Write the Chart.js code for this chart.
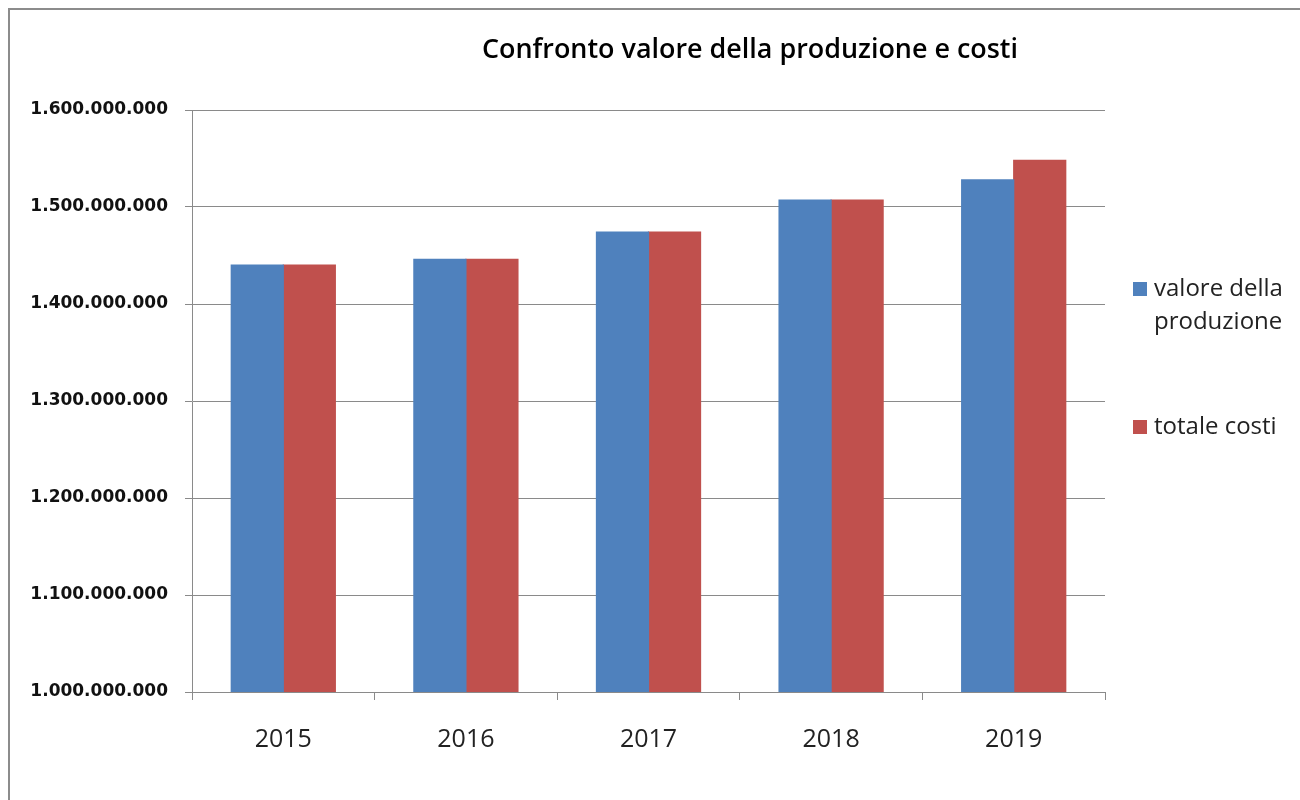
<!DOCTYPE html>
<html lang="it">
<head>
<meta charset="utf-8">
<title>Confronto valore della produzione e costi</title>
<style>
html, body { margin: 0; padding: 0; background: #fff; overflow: hidden; }
.frame { position: absolute; left: 8px; top: 8px; width: 1400px; height: 900px; border: 2px solid #8c8c8c; }
.holder { position: absolute; left: 0; top: 0; width: 1300px; height: 800px; }
</style>
</head>
<body>
<div class="frame"></div>
<div class="holder"><canvas id="canvas" width="1300" height="800"></canvas></div>

<script src="https://cdn.jsdelivr.net/npm/chart.js"></script>
<script>
// data
const years = ["2015", "2016", "2017", "2018", "2019"];
const valoreProduzione = [1440000000, 1446000000, 1474000000, 1507000000, 1528000000];
const totaleCosti      = [1440000000, 1446000000, 1474000000, 1507000000, 1548000000];
const seriesNames = [["valore della", "produzione"], ["totale costi"]];
const titleText = "Confronto valore della produzione e costi";

const blue = "#4f81bd";
const red = "#c0504d";
const gridGrey = "#8a8a8a";

function dots(v) {
  return String(Math.round(v)).replace(/\B(?=(\d{3})+(?!\d))/g, ".");
}

// title + legend drawn by hand, like the spreadsheet does it
const extras = {
  id: "extras",
  afterDraw(chart) {
    const c = chart.ctx;
    c.save();
    c.fillStyle = "#000";
    c.font = "600 27px 'Open Sans'";
    c.textAlign = "center";
    c.textBaseline = "middle";
    c.fillText(titleText, 750, 50, 536);

    c.textAlign = "left";
    c.font = "24px 'Open Sans'";
    const rows = [289, 427];
    chart.data.datasets.forEach((ds, i) => {
      c.fillStyle = ds.backgroundColor;
      c.fillRect(1133, rows[i] - 7, 14, 14);
      c.fillStyle = "#222";
      seriesNames[i].forEach((line, j) => {
        c.fillText(line, 1154, rows[i] + j * 33, 132);
      });
    });
    c.restore();
  }
};

const ctx = document.getElementById("canvas").getContext("2d");
let mychart = new Chart(ctx, {
  type: "bar",
  data: {
    labels: years,
    datasets: [
      { label: seriesNames[0].join(" "), data: valoreProduzione, backgroundColor: blue, inflateAmount: 0.6 },
      { label: seriesNames[1].join(" "), data: totaleCosti, backgroundColor: red, inflateAmount: 0.6 }
    ]
  },
  options: {
    responsive: false,
    animation: false,
    categoryPercentage: 0.57,
    barPercentage: 1,
    layout: { padding: { left: 10, right: 195, top: 110, bottom: 0 } },
    plugins: {
      legend: { display: false },
      title: { display: false },
      tooltip: { enabled: false }
    },
    scales: {
      x: {
        afterFit(s) { s.height = 108; },
        grid: { offset: true, drawOnChartArea: false, color: gridGrey, tickLength: 8 },
        border: { color: gridGrey, width: 1 },
        ticks: { color: "#222", padding: 25, font: { family: "'Open Sans'", size: 25 } }
      },
      y: {
        min: 1000000000,
        max: 1600000000,
        afterFit(s) { s.width = 182; },
        grid: { color: gridGrey, tickLength: 7 },
        border: { color: gridGrey, width: 1 },
        ticks: {
          stepSize: 100000000,
          color: "#111",
          padding: 17,
          font: { family: "'DejaVu Sans'", size: 17, weight: "bold" },
          callback: v => dots(v)
        }
      }
    }
  },
  plugins: [extras]
});
</script>
</body>
</html>
